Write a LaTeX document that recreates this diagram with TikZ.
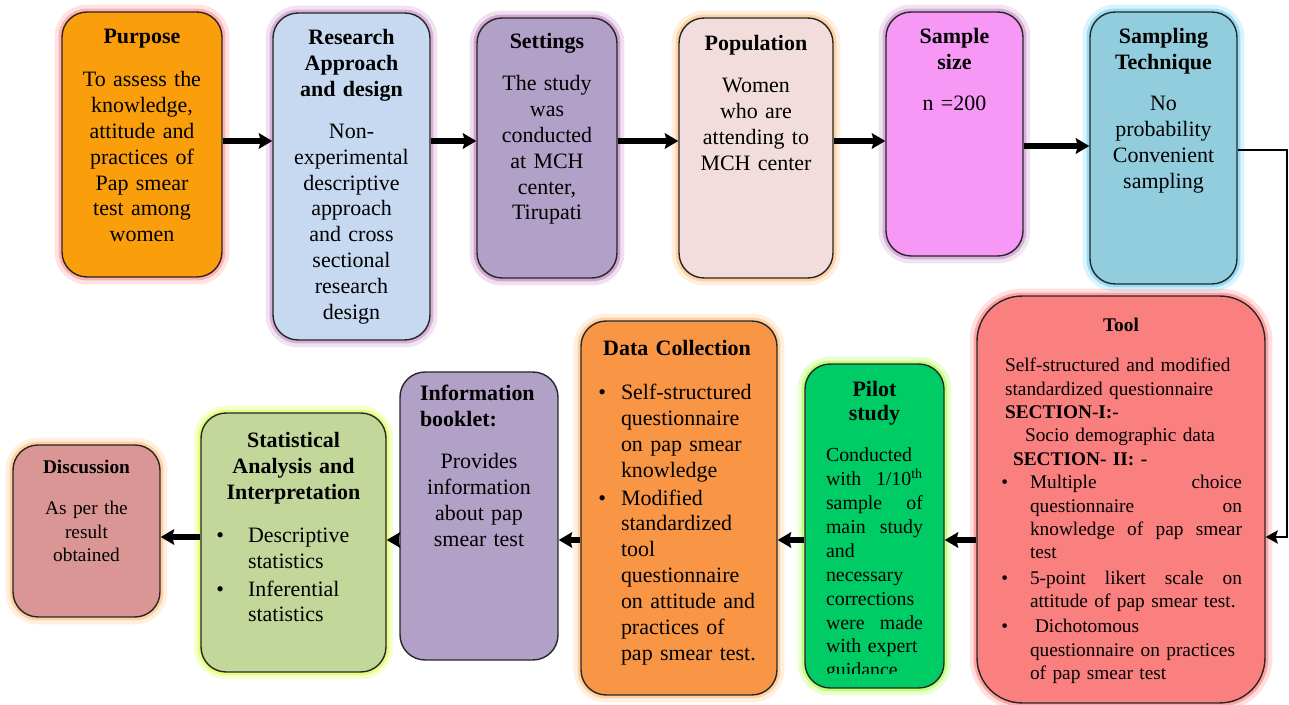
\documentclass[tikz,border=0pt]{standalone}
\usepackage{fontspec}
\setmainfont{Liberation Serif}
\usetikzlibrary{arrows.meta}

\definecolor{purposeC}{RGB}{250,158,12}
\definecolor{researchC}{RGB}{198,217,241}
\definecolor{settingsC}{RGB}{177,160,199}
\definecolor{popC}{RGB}{242,221,220}
\definecolor{sampleC}{RGB}{247,152,247}
\definecolor{techC}{RGB}{146,205,221}
\definecolor{toolC}{RGB}{250,128,128}
\definecolor{pilotC}{RGB}{0,204,102}
\definecolor{dataC}{RGB}{248,150,70}
\definecolor{infoC}{RGB}{178,161,199}
\definecolor{statC}{RGB}{196,215,155}
\definecolor{discC}{RGB}{218,150,148}

% bulleted list, #1 = indent of the text
\newenvironment{bullets}[1]{%
  \begin{list}{\textbullet}{%
    \setlength{\leftmargin}{#1}%
    \setlength{\labelwidth}{0.16cm}%
    \setlength{\labelsep}{\dimexpr#1-0.16cm\relax}%
    \setlength{\topsep}{0pt}\setlength{\partopsep}{0pt}%
    \setlength{\itemsep}{0.04cm}\setlength{\parsep}{0pt}}}%
  {\end{list}}

\begin{document}
\begin{tikzpicture}[x=0.02cm, y=-0.02cm]

    \tikzset{
      box/.style={draw=black!85, line width=0.8pt, rounded corners=0.5cm, inner sep=0pt},
      glow/.style={preaction={draw=#1, line width=0.3cm, opacity=0.18},
                   preaction={draw=#1, line width=0.14cm, opacity=0.4}},
      txt/.style={anchor=base, inner sep=0pt, font=\fontsize{12.5}{14.7}\selectfont},
      arr/.style={line width=3.4pt, -{Stealth[length=0.27cm, width=0.31cm, inset=0.04cm]}},
      thinarr/.style={line width=1.6pt, -{Stealth[length=0.24cm, width=0.26cm, inset=0.04cm]}},
    }
    \useasboundingbox (0,0) rectangle (1289,705);

    % top row
    \node[box, glow={red!60}, fill=purposeC, minimum width=3.2cm, minimum height=5.3cm] (purpose) at (142,144.5) {};
    \node[box, glow={violet!60}, fill=researchC, minimum width=3.14cm, minimum height=6.54cm] (research) at (351.5,176.5) {};
    \node[box, glow={violet!70}, fill=settingsC, minimum width=2.8cm, minimum height=5.2cm] (settings) at (547,148) {};
    \node[box, glow={orange!70}, fill=popC, minimum width=3.08cm, minimum height=5.2cm] (population) at (756,148) {};
    \node[box, glow={violet!60}, fill=sampleC, minimum width=2.74cm, minimum height=4.88cm] (sample) at (954.5,134) {};
    % bottom row
    \node[box, glow={red!70}, fill=toolC, rounded corners=0.9cm, minimum width=5.76cm, minimum height=8.14cm] (tool) at (1121,499.5) {};
    \node[box, glow={cyan!80}, fill=techC, minimum width=2.94cm, minimum height=5.44cm] (technique) at (1163.5,148) {};
    \node[box, glow={lime!70!green}, fill=pilotC, minimum width=2.78cm, minimum height=6.48cm] (pilot) at (874.5,526) {};
    \node[box, glow={orange!70}, fill=dataC, minimum width=3.92cm, minimum height=7.48cm] (data) at (679,508) {};
    \node[box, fill=infoC, minimum width=3.16cm, minimum height=5.76cm] (info) at (479,516) {};
    \node[box, glow={lime!80!yellow}, fill=statC, minimum width=3.7cm, minimum height=5.18cm] (stat) at (293.5,542.5) {};
    \node[box, glow={orange!70}, fill=discC, minimum width=2.94cm, minimum height=3.44cm] (disc) at (86.5,531) {};

    % texts
    \node[txt, text width=2.9cm, align=center] (purpose-txt) at (142,44)
      {\textbf{Purpose}\\[0.34cm] To assess the\\ knowledge,\\ attitude and\\ practices of\\ Pap smear\\ test among\\ women};
    \node[txt, text width=2.9cm, align=center] (research-txt) at (351.5,45)
      {\textbf{Research}\\ \textbf{Approach}\\ \textbf{and design}\\[0.32cm] Non-\\ experimental\\ descriptive\\ approach\\ and cross\\ sectional\\ research\\ design};
    \node[txt, text width=2.6cm, align=center] (settings-txt) at (547,49)
      {\textbf{Settings}\\[0.32cm] The study\\ was\\ conducted\\ at MCH\\ center,\\ Tirupati};
    \node[txt, text width=2.9cm, align=center] (population-txt) at (756,51)
      {\textbf{Population}\\[0.32cm] Women\\ who are\\ attending to\\ MCH center};
    \node[txt, text width=2.5cm, align=center] (sample-txt) at (954.5,44)
      {\textbf{Sample}\\ \textbf{size}\\[0.3cm] n =200};
    \node[txt, text width=2.8cm, align=center] (technique-txt) at (1163.5,44)
      {\textbf{Sampling}\\ \textbf{Technique}\\[0.3cm] No\\ probability\\ Convenient\\ sampling};

    \node[txt, font=\fontsize{11}{13.3}\selectfont, text width=4.84cm] (tool-txt) at (1121,332) {%
      {\centering\textbf{Tool}\par}\vspace{0.33cm}
      \hspace*{0.1cm}Self-structured and modified\\
      \hspace*{0.1cm}standardized questionnaire\\
      \hspace*{0.1cm}\textbf{SECTION-I:-}\\
      \hspace*{0.5cm}Socio demographic data\\
      \hspace*{0.26cm}\textbf{SECTION- II: -}
      \begin{bullets}{0.6cm}
        \item Multiple\hfill choice\\
          questionnaire\hfill on\\
          knowledge\hfill of\hfill pap\hfill smear\\
          test
        \item 5-point\hfill likert\hfill scale\hfill on\\
          attitude of pap smear test.
        \item \hspace*{0.1cm}Dichotomous\\
          questionnaire on practices\\
          of pap smear test
      \end{bullets}};

    \begin{scope}
      \clip (pilot.north west) rectangle ([yshift=0.3cm]pilot.south east);
      \node[txt, font=\fontsize{11.3}{13.6}\selectfont, text width=1.94cm] (pilot-txt) at (874.5,397) {%
        {\centering\fontsize{12.5}{13.6}\selectfont\textbf{Pilot}\\ \textbf{study}\par}\vspace{0.34cm}
        Conducted\\
        with\hfill 1/10\textsuperscript{th}\\
        sample\hfill of\\
        main\hfill study\\
        and\\
        necessary\\
        corrections\\
        were\hfill made\\
        with expert\\
        guidance};
    \end{scope}

    \node[txt, text width=3.44cm] (data-txt) at (684,356) {%
      {\centering\hspace*{-0.28cm}\textbf{Data Collection}\par}\vspace{0.36cm}
      \begin{bullets}{0.46cm}
        \item Self-structured\\ questionnaire\\ on pap smear\\ knowledge
        \item Modified\\ standardized\\ tool\\ questionnaire\\ on attitude and\\ practices of\\ pap smear test.
      \end{bullets}};

    \node[txt, text width=2.36cm] (info-txt) at (479,401) {%
      {\raggedright\textbf{Information}\\ \textbf{booklet:}\par}\vspace{0.32cm}
      {\centering Provides\\ information\\ about pap\\ smear test\par}};

    \node[txt, text width=3.1cm] (stat-txt) at (293.5,448) {%
      {\centering\textbf{Statistical}\\ \textbf{Analysis and}\\ \textbf{Interpretation}\par}\vspace{0.34cm}
      \begin{bullets}{0.64cm}
        \item Descriptive\\ statistics
        \item Inferential\\ statistics
      \end{bullets}};

    \node[txt, font=\fontsize{11}{13.3}\selectfont, text width=2.6cm, align=center] (disc-txt) at (86.5,474)
      {\textbf{Discussion}\\[0.35cm] As per the\\ result\\ obtained};

    % connectors
    \draw[arr] (purpose.east |- 0,141) -- (research.west |- 0,141);
    \draw[arr] (research.east |- 0,141) -- (settings.west |- 0,141);
    \draw[arr] (settings.east |- 0,141) -- (population.west |- 0,141);
    \draw[arr] (population.east |- 0,141) -- (sample.west |- 0,141);
    \draw[arr] (sample.east |- 0,146) -- (technique.west |- 0,146);
    \coordinate (turn) at (1287,150);
    \draw[thinarr] (technique.east |- turn) -- (turn) |- (tool.east |- 0,537);
    \draw[arr] (tool.west |- 0,540) -- (pilot.east |- 0,540);
    \draw[arr] (pilot.west |- 0,540) -- (data.east |- 0,540);
    \draw[arr] (data.west |- 0,540) -- (info.east |- 0,540);
    \draw[arr] (info.west |- 0,540) -- (stat.east |- 0,540);
    \draw[arr] (stat.west |- 0,537) -- (disc.east |- 0,537);

\end{tikzpicture}
\end{document}
